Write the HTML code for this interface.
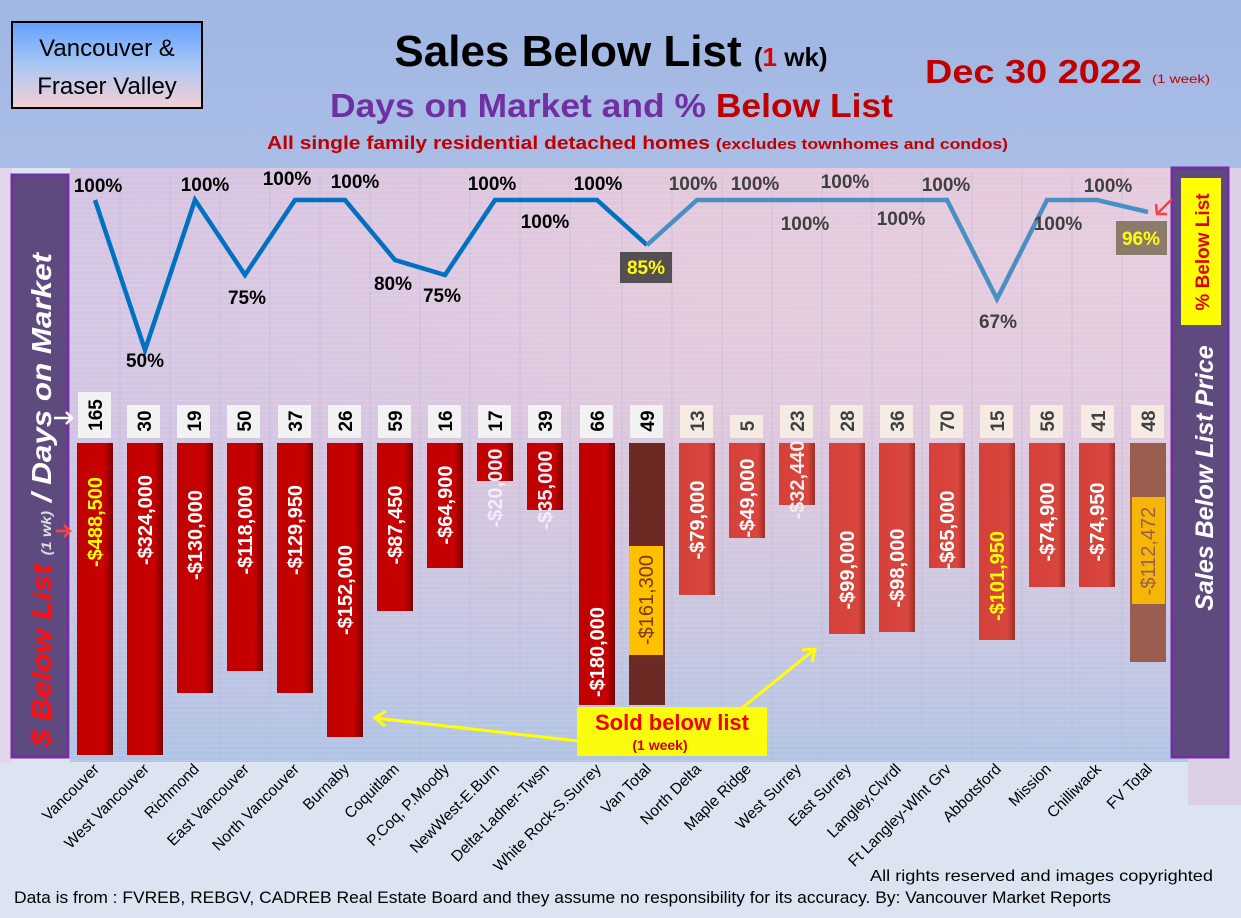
<!DOCTYPE html>
<html><head><meta charset="utf-8"><style>
html,body{margin:0;padding:0;width:1241px;height:918px;overflow:hidden}
svg{display:block}
text{font-family:"Liberation Sans",sans-serif}
</style></head><body>
<svg width="1241" height="918" viewBox="0 0 1241 918" xmlns="http://www.w3.org/2000/svg">
<defs>
<linearGradient id="bg" x1="0" y1="0" x2="0" y2="1">
<stop offset="0" stop-color="#a0b7e3"/><stop offset="1" stop-color="#a9bde6"/></linearGradient>
<linearGradient id="plotT" x1="0" y1="0" x2="1" y2="0">
<stop offset="0" stop-color="#d3c3e3"/><stop offset="0.55" stop-color="#e3c8dc"/><stop offset="1" stop-color="#e5cade"/></linearGradient>
<linearGradient id="plotV" x1="0" y1="0" x2="0" y2="1">
<stop offset="0" stop-color="#ffffff" stop-opacity="0"/><stop offset="0.45" stop-color="#c8c8e0" stop-opacity="0.2"/><stop offset="1" stop-color="#a8c4e6" stop-opacity="0.85"/></linearGradient>
<linearGradient id="box" x1="0" y1="0" x2="0" y2="1">
<stop offset="0" stop-color="#62a0ff"/><stop offset="0.5" stop-color="#a8c8f4"/><stop offset="1" stop-color="#f6cfd6"/></linearGradient>
<linearGradient id="barL" x1="0" y1="0" x2="1" y2="0">
<stop offset="0" stop-color="#c00000"/><stop offset="0.75" stop-color="#c80000"/><stop offset="1" stop-color="#7a0000"/></linearGradient>
<linearGradient id="barR" x1="0" y1="0" x2="1" y2="0">
<stop offset="0" stop-color="#d6403a"/><stop offset="0.8" stop-color="#d8463d"/><stop offset="1" stop-color="#9a2e28"/></linearGradient>
<pattern id="grid" width="10" height="5" patternUnits="userSpaceOnUse"><rect width="10" height="1" fill="#ffffff" opacity="0.12"/></pattern>
</defs>
<rect width="1241" height="918" fill="#dde4f1"/>
<rect width="1241" height="168" fill="url(#bg)"/>
<rect x="1188" y="168" width="53" height="637" fill="#ddd0e6"/>
<rect x="0" y="168" width="12" height="595" fill="#e2d4ea"/>
<!-- plot -->
<rect x="70" y="168" width="1118" height="594" fill="url(#plotT)"/>
<rect x="70" y="168" width="1118" height="594" fill="url(#plotV)"/>
<rect x="70" y="168" width="1118" height="594" fill="url(#grid)"/>
<g stroke="#b8b8d8" stroke-width="1" opacity="0.5">
<line x1="120" y1="172" x2="120" y2="760"/><line x1="170" y1="172" x2="170" y2="760"/><line x1="220" y1="172" x2="220" y2="760"/><line x1="270" y1="172" x2="270" y2="760"/><line x1="320" y1="172" x2="320" y2="760"/><line x1="370" y1="172" x2="370" y2="760"/><line x1="420" y1="172" x2="420" y2="760"/><line x1="470" y1="172" x2="470" y2="760"/><line x1="520" y1="172" x2="520" y2="760"/><line x1="570" y1="172" x2="570" y2="760"/><line x1="622" y1="172" x2="622" y2="760"/><line x1="672" y1="172" x2="672" y2="760"/><line x1="722" y1="172" x2="722" y2="760"/><line x1="772" y1="172" x2="772" y2="760"/><line x1="822" y1="172" x2="822" y2="760"/><line x1="872" y1="172" x2="872" y2="760"/><line x1="922" y1="172" x2="922" y2="760"/><line x1="972" y1="172" x2="972" y2="760"/><line x1="1022" y1="172" x2="1022" y2="760"/><line x1="1072" y1="172" x2="1072" y2="760"/><line x1="1122" y1="172" x2="1122" y2="760"/>
</g>

<!-- header -->
<rect x="12" y="22" width="190" height="86" fill="url(#box)" stroke="#000" stroke-width="2"/>
<text x="107" y="56" font-size="24" text-anchor="middle" fill="#000">Vancouver &amp;</text>
<text x="107" y="94" font-size="24" text-anchor="middle" fill="#000">Fraser Valley</text>
<text x="611" y="66" font-size="44" font-weight="bold" text-anchor="middle" fill="#000">Sales Below List <tspan font-size="26">(<tspan fill="#e00000">1</tspan> wk)</tspan></text>
<text x="330" y="117" font-size="33" font-weight="bold" fill="#7030a0" textLength="563" lengthAdjust="spacingAndGlyphs">Days on Market and % <tspan fill="#c00000">Below List</tspan></text>
<text x="267" y="149" font-size="18" font-weight="bold" fill="#c00000" textLength="741" lengthAdjust="spacingAndGlyphs">All single family residential detached homes <tspan font-size="15">(excludes townhomes and condos)</tspan></text>
<text x="925" y="83" font-size="33" font-weight="bold" fill="#c00000" textLength="217" lengthAdjust="spacingAndGlyphs">Dec 30  2022</text>
<text x="1152" y="83" font-size="12" fill="#c00000" textLength="58" lengthAdjust="spacingAndGlyphs">(1 week)</text>

<!-- side panels -->
<rect x="12" y="175" width="56" height="582" fill="#5f4a80" stroke="#7030a0" stroke-width="3"/>
<text transform="translate(51,500) rotate(-90)" font-size="28" font-weight="bold" font-style="italic" text-anchor="middle" fill="#fff" textLength="494" lengthAdjust="spacingAndGlyphs"><tspan fill="#ff1010">$ Below List</tspan> <tspan font-size="14" fill="#ddd">(1 wk)</tspan> / Days on Market</text>
<rect x="1172" y="168" width="56" height="589" fill="#5f4a80" stroke="#7030a0" stroke-width="3"/>
<rect x="1181" y="178" width="40" height="147" fill="#ffff00"/>
<text transform="translate(1209,252) rotate(-90)" font-size="19" font-weight="bold" text-anchor="middle" fill="#e00000">% Below List</text>
<text transform="translate(1213,478) rotate(-90)" font-size="25" font-weight="bold" font-style="italic" text-anchor="middle" fill="#fff">Sales Below List Price</text>

<!-- bars -->
<g>
<rect x="77" y="443" width="36" height="312" fill="url(#barL)"/>
<rect x="127" y="443" width="36" height="312" fill="url(#barL)"/>
<rect x="177" y="443" width="36" height="250" fill="url(#barL)"/>
<rect x="227" y="443" width="36" height="228" fill="url(#barL)"/>
<rect x="277" y="443" width="36" height="250" fill="url(#barL)"/>
<rect x="327" y="443" width="36" height="294" fill="url(#barL)"/>
<rect x="377" y="443" width="36" height="168" fill="url(#barL)"/>
<rect x="427" y="443" width="36" height="125" fill="url(#barL)"/>
<rect x="477" y="443" width="36" height="38" fill="url(#barL)"/>
<rect x="527" y="443" width="36" height="67" fill="url(#barL)"/>
<rect x="579" y="443" width="36" height="262" fill="url(#barL)"/>
<rect x="629" y="443" width="36" height="262" fill="#6b2a24"/>
<rect x="679" y="443" width="36" height="152" fill="url(#barR)"/>
<rect x="729" y="443" width="36" height="95" fill="url(#barR)"/>
<rect x="779" y="443" width="36" height="62" fill="url(#barR)"/>
<rect x="829" y="443" width="36" height="191" fill="url(#barR)"/>
<rect x="879" y="443" width="36" height="189" fill="url(#barR)"/>
<rect x="929" y="443" width="36" height="125" fill="url(#barR)"/>
<rect x="979" y="443" width="36" height="197" fill="url(#barR)"/>
<rect x="1029" y="443" width="36" height="144" fill="url(#barR)"/>
<rect x="1079" y="443" width="36" height="144" fill="url(#barR)"/>
<rect x="1130" y="443" width="36" height="219" fill="#9a5e50"/>
<rect x="629" y="546" width="34" height="109" fill="#ffc000"/>
<rect x="1132" y="497" width="33" height="107" fill="#ffc000" opacity="0.9"/>
</g>
<!-- bar value labels -->
<g font-size="20" font-weight="bold" text-anchor="middle" fill="#fff">
<text transform="translate(102,522) rotate(-90)" fill="#ffff00">-$488,500</text>
<text transform="translate(152,520) rotate(-90)">-$324,000</text>
<text transform="translate(202,535) rotate(-90)">-$130,000</text>
<text transform="translate(252,530) rotate(-90)">-$118,000</text>
<text transform="translate(302,530) rotate(-90)">-$129,950</text>
<text transform="translate(352,590) rotate(-90)">-$152,000</text>
<text transform="translate(402,525) rotate(-90)">-$87,450</text>
<text transform="translate(452,505) rotate(-90)">-$64,900</text>
<text transform="translate(502,488) rotate(-90)" fill="#f0eef8">-$20,000</text>
<text transform="translate(552,490) rotate(-90)" fill="#f0eef8">-$35,000</text>
<text transform="translate(604,652) rotate(-90)">-$180,000</text>
<text transform="translate(653,600) rotate(-90)" fill="#7a3a10" font-weight="normal">-$161,300</text>
<text transform="translate(704,520) rotate(-90)">-$79,000</text>
<text transform="translate(754,498) rotate(-90)">-$49,000</text>
<text transform="translate(804,480) rotate(-90)" fill="#f4ece8">-$32,440</text>
<text transform="translate(854,570) rotate(-90)">-$99,000</text>
<text transform="translate(904,568) rotate(-90)">-$98,000</text>
<text transform="translate(954,530) rotate(-90)">-$65,000</text>
<text transform="translate(1004,576) rotate(-90)" fill="#ffff00">-$101,950</text>
<text transform="translate(1054,522) rotate(-90)">-$74,900</text>
<text transform="translate(1104,522) rotate(-90)">-$74,950</text>
<text transform="translate(1155,551) rotate(-90)" fill="#9a5e50" font-weight="normal">-$112,472</text>
</g>
<!-- day boxes -->
<g fill="#f2f2f2">
<rect x="78" y="392" width="33" height="46"/><rect x="127" y="405" width="33" height="33"/><rect x="177" y="405" width="33" height="33"/><rect x="227" y="405" width="33" height="33"/><rect x="278" y="405" width="33" height="33"/><rect x="328" y="405" width="33" height="33"/><rect x="378" y="405" width="33" height="33"/><rect x="428" y="405" width="33" height="33"/><rect x="478" y="405" width="33" height="33"/><rect x="528" y="405" width="33" height="33"/><rect x="580" y="405" width="33" height="33"/><rect x="630" y="405" width="33" height="33"/>
</g>
<g fill="#f5ebe2">
<rect x="680" y="405" width="33" height="33"/><rect x="730" y="415" width="33" height="23"/><rect x="780" y="405" width="33" height="33"/><rect x="830" y="405" width="33" height="33"/><rect x="880" y="405" width="33" height="33"/><rect x="930" y="405" width="33" height="33"/><rect x="980" y="405" width="33" height="33"/><rect x="1030" y="405" width="33" height="33"/><rect x="1081" y="405" width="33" height="33"/><rect x="1131" y="405" width="33" height="33"/>
</g>
<g font-size="19" font-weight="bold" text-anchor="middle" fill="#000">
<text transform="translate(102,415) rotate(-90)">165</text>
<text transform="translate(151,421) rotate(-90)">30</text>
<text transform="translate(201,421) rotate(-90)">19</text>
<text transform="translate(251,421) rotate(-90)">50</text>
<text transform="translate(302,421) rotate(-90)">37</text>
<text transform="translate(352,421) rotate(-90)">26</text>
<text transform="translate(402,421) rotate(-90)">59</text>
<text transform="translate(452,421) rotate(-90)">16</text>
<text transform="translate(502,421) rotate(-90)">17</text>
<text transform="translate(552,421) rotate(-90)">39</text>
<text transform="translate(604,421) rotate(-90)">66</text>
<text transform="translate(654,421) rotate(-90)">49</text>
<g fill="#3f3f3f">
<text transform="translate(704,421) rotate(-90)">13</text>
<text transform="translate(754,426) rotate(-90)">5</text>
<text transform="translate(804,421) rotate(-90)">23</text>
<text transform="translate(854,421) rotate(-90)">28</text>
<text transform="translate(904,421) rotate(-90)">36</text>
<text transform="translate(954,421) rotate(-90)">70</text>
<text transform="translate(1004,421) rotate(-90)">15</text>
<text transform="translate(1054,421) rotate(-90)">56</text>
<text transform="translate(1105,421) rotate(-90)">41</text>
<text transform="translate(1155,421) rotate(-90)">48</text>
</g></g>

<!-- line -->
<polyline fill="none" stroke="#0070c0" stroke-width="4.5" stroke-linejoin="miter" points="95,200 145,350 195,200 245,275 295,200 345,200 395,260 445,275 495,200 545,200 597,200 647,245"/>
<polyline fill="none" stroke="#4a8fc4" stroke-width="4.5" points="647,245 697,200 747,200 797,200 847,200 897,200 947,200 997,299 1047,200 1097,200 1148,212"/>

<!-- line labels -->
<g font-size="19" font-weight="bold" text-anchor="middle" fill="#000">
<text x="98" y="192">100%</text><text x="145" y="367">50%</text><text x="205" y="191">100%</text><text x="247" y="304">75%</text><text x="287" y="185">100%</text><text x="355" y="188">100%</text><text x="393" y="290">80%</text><text x="442" y="302">75%</text><text x="492" y="190">100%</text><text x="545" y="228">100%</text><text x="598" y="190">100%</text>
<g fill="#3f3f3f">
<text x="693" y="190">100%</text><text x="755" y="190">100%</text><text x="805" y="230">100%</text><text x="845" y="188">100%</text><text x="901" y="225">100%</text><text x="946" y="191">100%</text><text x="998" y="328">67%</text><text x="1058" y="230">100%</text><text x="1108" y="192">100%</text>
</g></g>
<rect x="620" y="252" width="52" height="31" fill="#3a3a3a" opacity="0.85"/>
<text x="646" y="274" font-size="19" font-weight="bold" text-anchor="middle" fill="#ffff00">85%</text>
<rect x="1116" y="221" width="51" height="34" fill="#8b7b6b"/>
<text x="1141" y="245" font-size="19" font-weight="bold" text-anchor="middle" fill="#ffff00">96%</text>
<!-- arrows -->
<g stroke="#ff4040" stroke-width="2.5" fill="none">
<line x1="1172" y1="199" x2="1158" y2="213"/><polyline points="1156,204 1157,214 1167,214"/>
<line x1="56" y1="531" x2="70" y2="531"/><polyline points="64,525 70,531 64,537"/>
</g>
<g stroke="#fff" stroke-width="2.5" fill="none">
<line x1="54" y1="418" x2="72" y2="418"/><polyline points="66,412 72,418 66,424"/>
</g>
<g stroke="#ffff00" stroke-width="3" fill="none">
<line x1="578" y1="741" x2="375" y2="718"/><polyline points="386,711 375,718 385,726"/>
<line x1="742" y1="708" x2="815" y2="649"/><polyline points="802,650 815,649 812,662"/>
</g>
<rect x="577" y="707" width="190" height="49" fill="#ffff00" opacity="0.95"/>
<text x="672" y="730" font-size="22" font-weight="bold" text-anchor="middle" fill="#f00000">Sold below list</text>
<text x="660" y="750" font-size="14" font-weight="bold" text-anchor="middle" fill="#d00000">(1 week)</text>

<!-- category labels -->
<g font-size="15.5" text-anchor="end" fill="#000">
<text transform="translate(100,770) rotate(-45)">Vancouver</text>
<text transform="translate(150,770) rotate(-45)">West Vancouver</text>
<text transform="translate(200,770) rotate(-45)">Richmond</text>
<text transform="translate(250,770) rotate(-45)">East Vancouver</text>
<text transform="translate(300,770) rotate(-45)">North Vancouver</text>
<text transform="translate(350,770) rotate(-45)">Burnaby</text>
<text transform="translate(400,770) rotate(-45)">Coquitlam</text>
<text transform="translate(450,770) rotate(-45)">P.Coq, P.Moody</text>
<text transform="translate(500,770) rotate(-45)">NewWest-E.Burn</text>
<text transform="translate(550,770) rotate(-45)">Delta-Ladner-Twsn</text>
<text transform="translate(602,770) rotate(-45)">White Rock-S.Surrey</text>
<text transform="translate(652,770) rotate(-45)">Van Total</text>
<text transform="translate(702,770) rotate(-45)">North Delta</text>
<text transform="translate(752,770) rotate(-45)">Maple Ridge</text>
<text transform="translate(802,770) rotate(-45)">West Surrey</text>
<text transform="translate(852,770) rotate(-45)">East Surrey</text>
<text transform="translate(902,770) rotate(-45)">Langley,Clvrdl</text>
<text transform="translate(952,770) rotate(-45)">Ft Langley-Wlnt Grv</text>
<text transform="translate(1002,770) rotate(-45)">Abbotsford</text>
<text transform="translate(1052,770) rotate(-45)">Mission</text>
<text transform="translate(1102,770) rotate(-45)">Chilliwack</text>
<text transform="translate(1153,770) rotate(-45)">FV Total</text>
</g>
<text x="870" y="881" font-size="16" fill="#000" textLength="343" lengthAdjust="spacingAndGlyphs">All rights reserved and  images copyrighted</text>
<text x="14" y="903" font-size="17" fill="#000" textLength="1097" lengthAdjust="spacingAndGlyphs">Data is from : FVREB, REBGV, CADREB Real Estate Board and they assume no responsibility for its accuracy. By: Vancouver Market Reports</text>
</svg>
</body></html>
